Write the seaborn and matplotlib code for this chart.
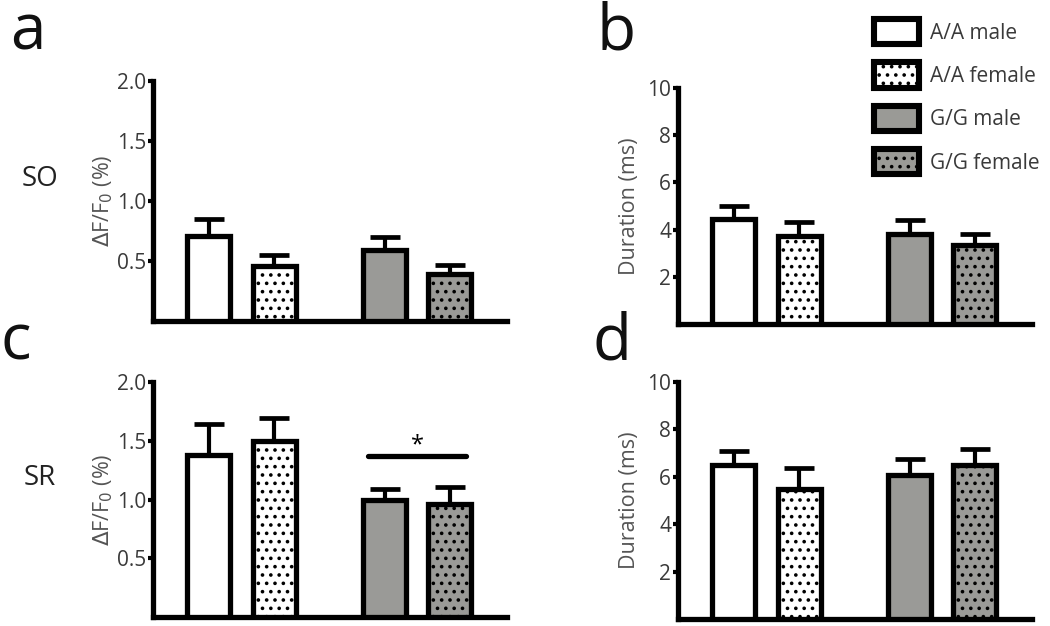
import numpy as np
import pandas as pd
import matplotlib
matplotlib.use("Agg")
import matplotlib.pyplot as plt
from matplotlib.patches import Patch
import seaborn as sns

# ---------------- data ----------------
groups = ["A/A male", "A/A female", "G/G male", "G/G female"]
positions = [0.0, 1.0, 2.7, 3.7]

so_amp_mean = [0.71, 0.46, 0.59, 0.39]
so_amp_err = [0.14, 0.09, 0.11, 0.08]
so_dur_mean = [4.45, 3.73, 3.81, 3.35]
so_dur_err = [0.55, 0.59, 0.59, 0.46]
sr_amp_mean = [1.38, 1.50, 1.00, 0.96]
sr_amp_err = [0.26, 0.19, 0.09, 0.15]
sr_dur_mean = [6.48, 5.47, 6.06, 6.48]
sr_dur_err = [0.59, 0.89, 0.68, 0.68]

amp_ticks = [0.5, 1.0, 1.5, 2.0]
amp_ticklabels = ["0.5", "1.0", "1.5", "2.0"]
dur_ticks = [2, 4, 6, 8, 10]
dur_ticklabels = ["2", "4", "6", "8", "10"]

face_colors = {"A/A male": "white", "A/A female": "white",
               "G/G male": "#9a9a96", "G/G female": "#9a9a96"}
hatches = {"A/A male": "", "A/A female": "..",
           "G/G male": "", "G/G female": ".."}

# ---------------- style ----------------
sns.set_theme(style="ticks")
plt.rcParams["font.family"] = ["Open Sans", "DejaVu Sans"]
plt.rcParams["hatch.linewidth"] = 1.4
plt.rcParams["hatch.color"] = "black"

W, H = 1050, 626
fig = plt.figure(figsize=(W / 100, H / 100), dpi=100)
fig.patch.set_facecolor("white")


def px_axes(left, top, right, bottom):
    return fig.add_axes([left / W, 1 - bottom / H, (right - left) / W, (bottom - top) / H])


EDGE_LW = 3.8
TEXT_C = "#3a3a3a"


def panel(ax, means, errs, ylim, ticks, ticklabels, ylabel, labelpad):
    df = pd.DataFrame({"pos": positions, "val": means, "grp": groups})
    sns.barplot(data=df, x="pos", y="val", hue="grp", hue_order=groups,
                palette=face_colors, native_scale=True, dodge=False,
                width=0.66, errorbar=None, legend=False, ax=ax, zorder=3)
    for patch, g in zip(ax.patches, groups):
        patch.set_edgecolor("black")
        patch.set_linewidth(EDGE_LW)
        patch.set_hatch(hatches[g])
        patch.set_joinstyle("miter")
    ax.errorbar(positions, means, yerr=[np.zeros(len(errs)), errs], fmt="none",
                ecolor="black", elinewidth=3.0, capsize=10.5, capthick=3.4, zorder=2)
    ax.set_ylim(*ylim)
    ax.set_xlim(-0.86, 4.58)
    ax.set_yticks(ticks)
    ax.set_yticklabels(ticklabels)
    ax.set_xticks([])
    ax.set_xlabel("")
    ax.set_ylabel(ylabel, fontsize=15.5, color="#555555", labelpad=labelpad)
    for s in ["top", "right"]:
        ax.spines[s].set_visible(False)
    for s in ["left", "bottom"]:
        ax.spines[s].set_linewidth(EDGE_LW)
        ax.spines[s].set_color("black")
        ax.spines[s].set_capstyle("projecting")
    ax.tick_params(axis="y", direction="out", length=3.5, width=3.0, color="black",
                   labelsize=15, labelcolor=TEXT_C, pad=1.5)
    ax.set_facecolor("none")


amp_label = r"$\Delta$F/F$_0$ (%)"

ax_a = px_axes(153, 81, 507, 321)
panel(ax_a, so_amp_mean, so_amp_err, (0, 2.0), amp_ticks, amp_ticklabels, amp_label, 1)
ax_b = px_axes(678, 88, 1032, 324)
panel(ax_b, so_dur_mean, so_dur_err, (0, 10), dur_ticks, dur_ticklabels, "Duration (ms)", 5)
ax_c = px_axes(153, 382, 507, 617)
panel(ax_c, sr_amp_mean, sr_amp_err, (0, 2.0), amp_ticks, amp_ticklabels, amp_label, 1)
ax_d = px_axes(678, 382, 1032, 619)
panel(ax_d, sr_dur_mean, sr_dur_err, (0, 10), dur_ticks, dur_ticklabels, "Duration (ms)", 5)

# significance bar in panel c
ax_c.plot([2.45, 3.95], [1.37, 1.37], color="black", lw=3.8, solid_capstyle="round", zorder=4)
ax_c.text(3.2, 1.36, "*", ha="center", va="bottom", fontsize=17, color="black")

# panel letters and row labels
for letter, x, y in [("a", 10, 49), ("b", 597, 49), ("c", 0, 359), ("d", 592, 359)]:
    fig.text(x / W, 1 - y / H, letter, fontsize=46, color="#111111", ha="left", va="baseline")
fig.text(40 / W, 1 - 179 / H, "SO", fontsize=20, color="#222222", ha="center", va="center")
fig.text(40 / W, 1 - 478 / H, "SR", fontsize=20, color="#222222", ha="center", va="center")

# legend
handles = [Patch(facecolor=face_colors[g], edgecolor="black", linewidth=4.4,
                 hatch=hatches[g], label=g) for g in groups]
fig.legend(handles=handles, loc="upper left",
           bbox_to_anchor=(874 / W, 1 - 19 / H), frameon=False,
           fontsize=15, handlelength=2.15, handleheight=1.5,
           labelspacing=0.86, handletextpad=0.55, labelcolor=TEXT_C,
           borderaxespad=0, borderpad=0)

fig.savefig("out.png", dpi=100, facecolor="white")
